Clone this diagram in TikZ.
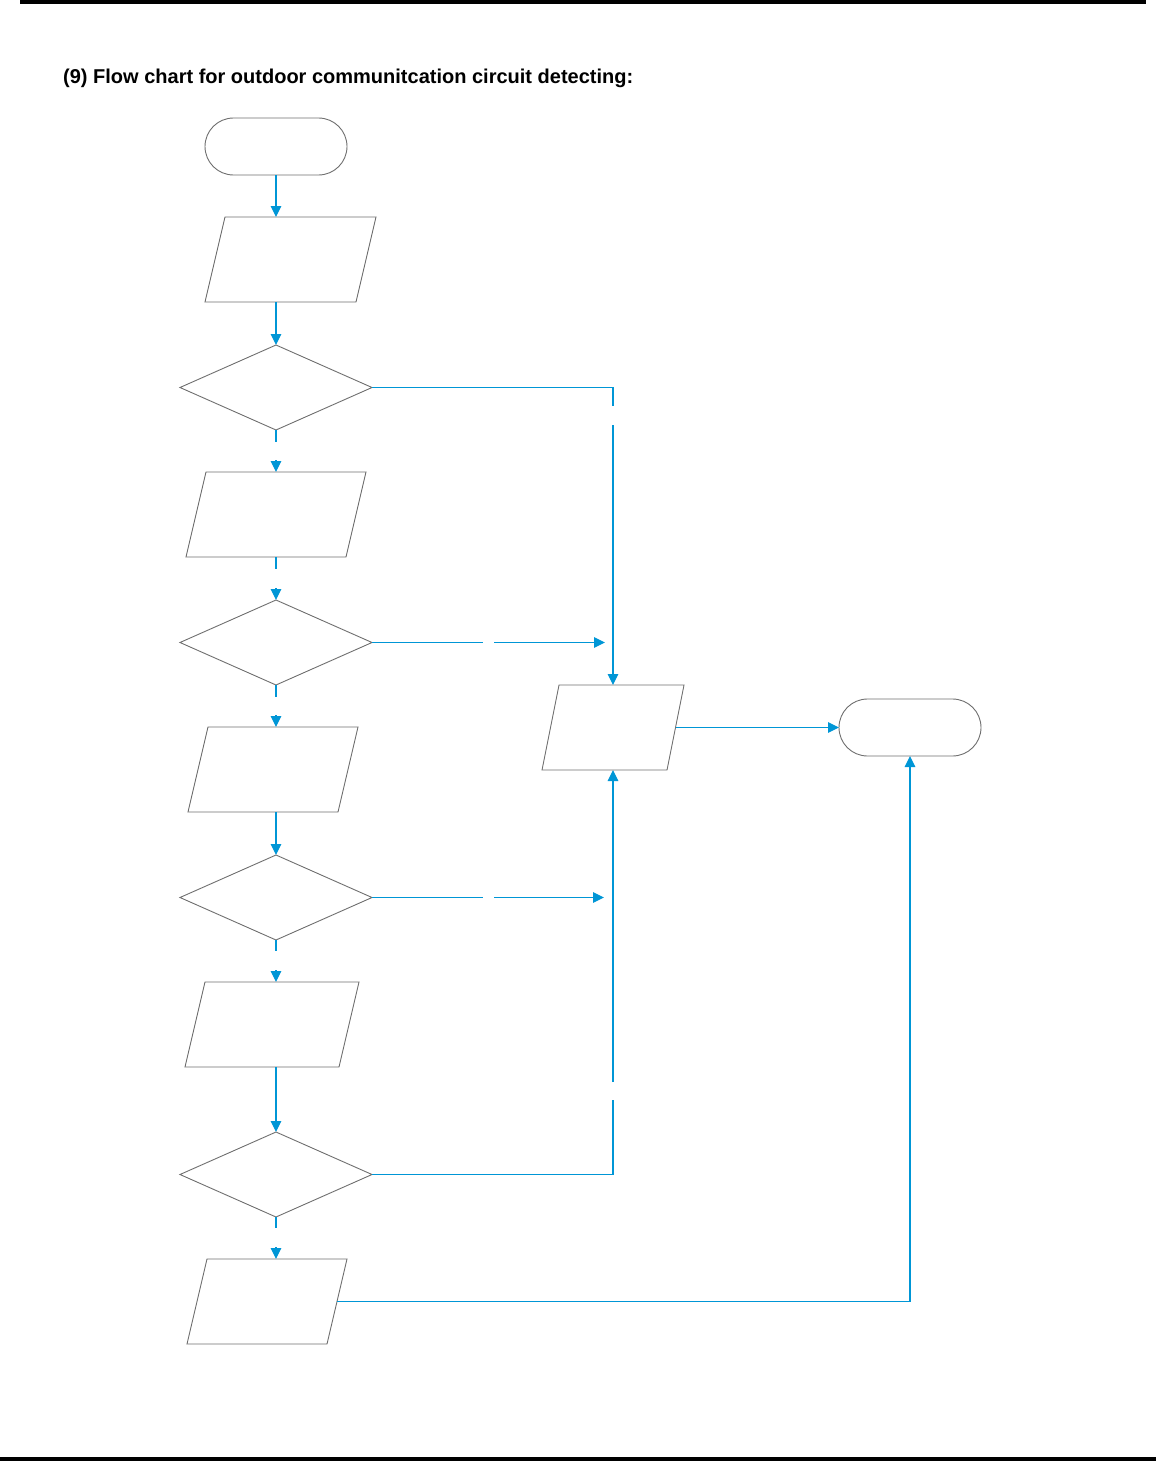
\documentclass[tikz,border=0pt]{standalone}
\usepackage{fontspec}
\setmainfont{Liberation Sans}
\usetikzlibrary{shapes.geometric,arrows.meta,calc}
\definecolor{conncol}{RGB}{0,150,214}
\definecolor{shapecol}{RGB}{110,110,110}
\begin{document}
\begin{tikzpicture}[x=1pt,y=-1pt,
  conn/.style={draw=conncol,line width=1.2pt},
  arr/.style={conn,-{Triangle[length=11pt,width=10.5pt]}},
  term/.style={draw=shapecol,line width=0.9pt,rectangle,rounded corners=28.5pt,minimum width=142pt,minimum height=57pt,inner sep=0pt,outer sep=0pt},
  pbox/.style={rectangle,minimum height=85pt,inner sep=0pt,outer sep=0pt},
  dec/.style={draw=shapecol,line width=0.9pt,diamond,minimum width=192pt,minimum height=85pt,inner sep=0pt,outer sep=0pt},
  pline/.style={draw=shapecol,line width=0.9pt,line join=miter}]
\useasboundingbox (0,0) rectangle (1156,1461);
\fill[black] (20,0) rectangle (1146,4);
\fill[black] (0,1457) rectangle (1156,1461);
\node[anchor=base west,inner sep=0pt,font=\bfseries\fontsize{20}{22}\selectfont] (title) at (63,84) {(9) Flow chart for outdoor communitcation circuit detecting:};
% nodes
\node[term] (s) at (276,146.5) {};
\node[pbox,minimum width=171pt] (p1) at (290.5,259.5) {};
\node[dec] (d1) at (276,387.5) {};
\node[pbox,minimum width=180pt] (p2) at (276,514.5) {};
\node[dec] (d2) at (276,642.5) {};
\node[pbox,minimum width=170pt] (p3) at (273,769.5) {};
\node[dec] (d3) at (276,897.5) {};
\node[pbox,minimum width=174pt] (p4) at (272,1024.5) {};
\node[dec] (d4) at (276,1174.5) {};
\node[pbox,minimum width=160pt] (p5) at (267,1301.5) {};
\node[pbox,minimum width=142pt] (p6) at (613,727.5) {};
\node[term] (e) at (910,727.5) {};
% parallelogram outlines
\foreach \n/\k in {p1/20,p2/20,p3/20,p4/20,p5/20,p6/17}{
  \draw[pline] ([xshift=\k pt]\n.north west) -- (\n.north east) -- ([xshift=-\k pt]\n.south east) -- (\n.south west) -- cycle;
}
% coordinates
\coordinate (c) at (276,0);
\coordinate (g1a) at (613,406);
\coordinate (g1b) at (613,425);
\coordinate (g4a) at (613,1100);
\coordinate (g4b) at (613,1082);
\coordinate (p6r) at ([xshift=-8.5pt]p6.east);
\coordinate (p5r) at ([xshift=-10pt]p5.east);
% main column
\draw[arr] (s.south) -- (s.south |- p1.north);
\draw[arr] (p1.south -| c) -- (d1.north);
\draw[conn] (d1.south) -- ++(0,12);
\draw[arr] ([yshift=12pt]p2.north -| c) -- (p2.north -| c);
\draw[conn] (p2.south -| c) -- ++(0,12);
\draw[arr] ([yshift=12pt]d2.north) -- (d2.north);
\draw[conn] (d2.south) -- ++(0,12);
\draw[arr] ([yshift=12pt]p3.north -| c) -- (p3.north -| c);
\draw[arr] (p3.south -| c) -- (d3.north);
\draw[conn] (d3.south) -- ++(0,11);
\draw[arr] ([yshift=12pt]p4.north -| c) -- (p4.north -| c);
\draw[arr] (p4.south -| c) -- (d4.north);
\draw[conn] (d4.south) -- ++(0,11);
\draw[arr] ([yshift=12pt]p5.north -| c) -- (p5.north -| c);
% right branches
\draw[conn] (d1.east) -| (g1a);
\draw[arr] (g1b) -- (p6.north);
\draw[conn] (d2.east) -- ++(111,0);
\draw[arr] ([xshift=122pt]d2.east) -- ([xshift=233pt]d2.east);
\draw[conn] (d3.east) -- ++(111,0);
\draw[arr] ([xshift=122pt]d3.east) -- ([xshift=232pt]d3.east);
\draw[conn] (d4.east) -| (g4a);
\draw[arr] (g4b) -- (p6.south);
\draw[arr] (p6r) -- (e.west);
\draw[arr] (p5r) -| (e.south);
\end{tikzpicture}
\end{document}
